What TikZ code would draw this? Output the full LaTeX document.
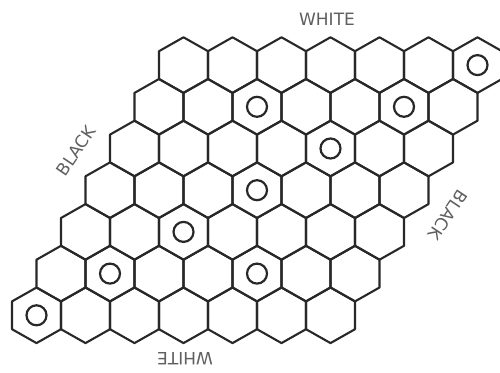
\documentclass[tikz,border=0pt]{standalone}
\usepackage{fontspec}
\newfontfamily\lblfont{DejaVu Sans}
\definecolor{inkc}{RGB}{40,40,40}
\definecolor{lblc}{RGB}{95,95,95}
\tikzset{
  hexline/.style={draw=inkc, line width=2.1pt, line join=round},
  stone/.style={circle, draw=inkc, line width=2.2pt, minimum size=20pt, inner sep=0pt},
  sidelabel/.style={text=lblc, font=\lblfont\fontsize{17}{17}\selectfont, inner sep=0pt}
}
\begin{document}
\begin{tikzpicture}[x=1pt,y=1pt]
\useasboundingbox (0,0) rectangle (500,372);
\fill[white] (0,0) rectangle (500,372);
\foreach \r in {0,...,6} {
  \foreach \c in {0,...,6} {
    \pgfmathsetmacro\cx{183.5-24.5*\r+49*\c}
    \pgfmathsetmacro\cy{372-65.1-41.7*\r}
    \coordinate (h-\r-\c) at (\cx,\cy);
    \draw[hexline] (h-\r-\c) ++(0,27.8) -- ++(24.5,-13.9) -- ++(0,-27.8) -- ++(-24.5,-13.9) -- ++(-24.5,13.9) -- ++(0,27.8) -- cycle;
  }
}
\node[stone] (s1) at (h-0-6) {};
\node[stone] (s2) at (h-1-2) {};
\node[stone] (s3) at (h-1-5) {};
\node[stone] (s4) at (h-2-4) {};
\node[stone] (s5) at (h-3-3) {};
\node[stone] (s6) at (h-4-2) {};
\node[stone] (s7) at (h-5-1) {};
\node[stone] (s8) at (h-5-4) {};
\node[stone] (s9) at (h-6-0) {};
\node[sidelabel] (wtop) at (327,353) {WHITE};
\node[sidelabel, rotate=180] (wbot) at (185,13) {WHITE};
\node[sidelabel, rotate=56] (bleft) at (76,221) {BLACK};
\node[sidelabel, rotate=236] (bright) at (448,157) {BLACK};
\end{tikzpicture}
\end{document}
